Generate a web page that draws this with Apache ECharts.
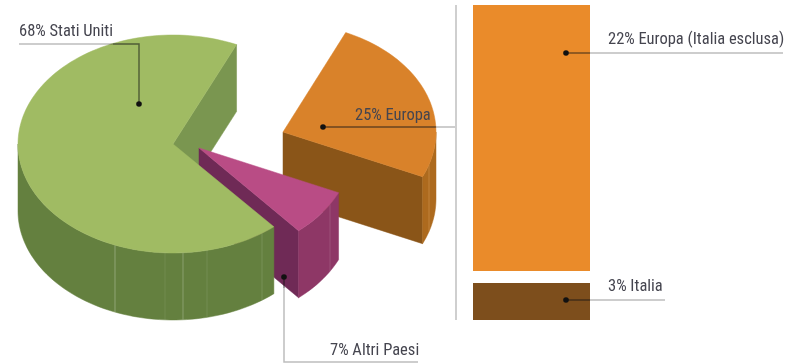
<!DOCTYPE html>
<html>
<head>
<meta charset="utf-8">
<style>html,body{margin:0;padding:0;background:#fff}#chart{width:792px;height:364px}</style>
<script src="https://cdn.jsdelivr.net/npm/echarts@6/dist/echarts.min.js"></script>
</head>
<body>
<div id="chart"></div>
<script>
// Shares of the whole, in percent, going clockwise from the top-right cut
const pieNames = ['Europa', 'Altri Paesi', 'Stati Uniti'];
const pieValues = [25, 7, 68];
// Breakdown of the Europa slice
const europeNames = ['Europa (Italia esclusa)', 'Italia'];
const europeValues = [22, 3];

// Projection and placement of the exploded slices; seams are [x, opacity]
const START_ANGLE = -65.8;
const DEPTH = 67;
const RY = 109;
const sliceGeom = {
  'Europa': { cx: 283, cy: 132, rx: 153, top: '#d9822a', wall: '#8a5518', rim: '#ad6a1e', seam: '#d9a060', seams: [[429, 0.45]] },
  'Altri Paesi': { cx: 199, cy: 148, rx: 153, top: '#b94c85', wall: '#6f2a56', rim: '#8e3766', seam: '#c79ab5', seams: [[298, 0.9], [330, 0.25]] },
  'Stati Uniti': { cx: 173, cy: 144, rx: 155, top: '#a0bb63', wall: '#7a9650', rim: '#64803f', seam: '#a3b58c', seams: [[115, 0.7], [165, 0.2], [183, 0.6], [207, 0.25], [262, 0.3]] }
};
const total = pieValues.reduce((a, b) => a + b, 0);
const sweeps = {};
let running = START_ANGLE;
pieNames.forEach((n, i) => {
  const sweep = pieValues[i] / total * 360;
  sweeps[n] = [running, running + sweep];
  running += sweep;
});

function arcPoint(g, deg) {
  const r = deg * Math.PI / 180;
  return [g.cx + g.rx * Math.cos(r), g.cy + RY * Math.sin(r)];
}
function arcPoints(g, a0, a1) {
  const pts = [];
  const n = Math.max(2, Math.ceil(Math.abs(a1 - a0) / 2));
  for (let i = 0; i <= n; i++) pts.push(arcPoint(g, a0 + (a1 - a0) * i / n));
  return pts;
}
const drop = p => [p[0], p[1] + DEPTH];
const poly = (points, fill, z2) => ({
  type: 'polygon', z2, silent: true,
  shape: { points },
  style: { fill, stroke: fill, lineWidth: 0.5 }
});

// Cut face that looks toward the viewer
function wallFaces(name, z2) {
  const g = sliceGeom[name], end = arcPoint(g, sweeps[name][1]), c = [g.cx, g.cy];
  return [poly([c, end, drop(end), drop(c)], g.wall, z2)];
}
// Curved outer face plus its lighter vertical seams, then the top surface
function solidFaces(name, z2) {
  const g = sliceGeom[name], s = sweeps[name], out = [];
  const a0 = Math.max(s[0], 0), a1 = Math.min(s[1], 180);
  const arc = arcPoints(g, a0, a1);
  out.push(poly(arc.concat(arc.map(drop).reverse()), g.rim, z2));
  const xMin = Math.min(...arc.map(p => p[0])), xMax = Math.max(...arc.map(p => p[0]));
  g.seams.filter(([x]) => x >= xMin && x < xMax).forEach(([x, opacity]) => {
    const y = g.cy + RY * Math.sqrt(1 - Math.pow((x - g.cx) / g.rx, 2));
    out.push({
      type: 'line', z2: z2 + 1, silent: true,
      shape: { x1: x, y1: y, x2: x, y2: y + DEPTH },
      style: { stroke: g.seam, lineWidth: 1, opacity }
    });
  });
  const top = [[g.cx, g.cy]].concat(arcPoints(g, s[0], s[1]));
  out.push(poly(top, g.top, z2 + 2));
  return out;
}

// Painter's order: each entry is [slice, what to draw]
const paintOrder = [
  ['Europa', 'wall'], ['Europa', 'solid'],
  ['Stati Uniti', 'wall'],
  ['Altri Paesi', 'wall'], ['Altri Paesi', 'solid'],
  ['Stati Uniti', 'solid']
];

// Leader lines (pale on paper, darker where "over" crosses a coloured mark), dots and captions
const leaders = [
  { pts: [[19, 44], [139, 44], [139, 104]], over: [[113, 44], [139, 44], [139, 104]], dot: [139, 104] },
  { pts: [[323, 127], [455, 127]], over: [[323, 127], [436, 127]], dot: [323, 127] },
  { pts: [[456, 5], [456, 320]], width: 2, color: '#cfcfcf' },
  { pts: [[566, 53], [783, 53]], over: [[566, 53], [590, 53]], dot: [566, 53] },
  { pts: [[566, 300], [665, 300]], over: [[566, 300], [590, 300]], dot: [566, 300] },
  { pts: [[284, 277], [284, 362], [418, 362]], over: [[284, 277], [284, 288]], dot: [284, 277] }
];
const captions = [
  { text: pieValues[2] + '% ' + pieNames[2], x: 19, y: 32 },
  { text: pieValues[0] + '% ' + pieNames[0], x: 355, y: 116 },
  { text: europeValues[0] + '% ' + europeNames[0], x: 608, y: 40 },
  { text: europeValues[1] + '% ' + europeNames[1], x: 608, y: 287 },
  { text: pieValues[1] + '% ' + pieNames[1], x: 330, y: 351 }
];
const graphicEls = [];
leaders.forEach(l => {
  graphicEls.push({
    type: 'polyline', z: 20, silent: true,
    shape: { points: l.pts },
    style: { stroke: l.color || '#bdbdbd', lineWidth: l.width || 1.5, fill: null, blend: 'multiply' }
  });
  if (l.over) graphicEls.push({
    type: 'polyline', z: 20, silent: true,
    shape: { points: l.over },
    style: { stroke: 'rgba(30,30,30,0.4)', lineWidth: 1.3, fill: null }
  });
  if (l.dot) graphicEls.push({
    type: 'circle', z: 21, silent: true,
    shape: { cx: l.dot[0], cy: l.dot[1], r: 2.8 },
    style: { fill: '#111' }
  });
});
captions.forEach(c => graphicEls.push({
  type: 'text', z: 22, silent: true, x: c.x, y: c.y,
  style: {
    text: c.text, fill: '#45454f',
    font: '16.5px "Liberation Sans Narrow", "Roboto Condensed", Roboto, sans-serif',
    verticalAlign: 'middle'
  }
}));

const barAxis = gridIndex => ({ type: 'category', gridIndex, data: [''], show: false });
const chart = echarts.init(document.getElementById('chart'), null, { renderer: 'canvas' });
chart.setOption({
  animation: false,
  backgroundColor: '#ffffff',
  grid: [
    { left: 473, width: 117, top: 5, height: 266 },
    { left: 473, width: 117, top: 283, height: 37 }
  ],
  xAxis: [barAxis(0), barAxis(1)],
  yAxis: [
    { type: 'value', gridIndex: 0, min: 0, max: europeValues[0], show: false },
    { type: 'value', gridIndex: 1, min: 0, max: europeValues[1], show: false }
  ],
  series: [
    {
      type: 'custom', coordinateSystem: 'none', silent: true, z: 2,
      data: paintOrder.map((_, i) => [i]),
      renderItem(params, api) {
        const [name, what] = paintOrder[api.value(0)];
        const z2 = params.dataIndex * 5;
        return { type: 'group', children: what === 'wall' ? wallFaces(name, z2) : solidFaces(name, z2) };
      }
    },
    {
      type: 'bar', xAxisIndex: 0, yAxisIndex: 0, barWidth: '100%', silent: true,
      itemStyle: { color: '#ea8b2a' }, data: [europeValues[0]]
    },
    {
      type: 'bar', xAxisIndex: 1, yAxisIndex: 1, barWidth: '100%', silent: true,
      itemStyle: { color: '#7d4e1c' }, data: [europeValues[1]]
    }
  ],
  graphic: { elements: graphicEls }
});
</script>
</body>
</html>
